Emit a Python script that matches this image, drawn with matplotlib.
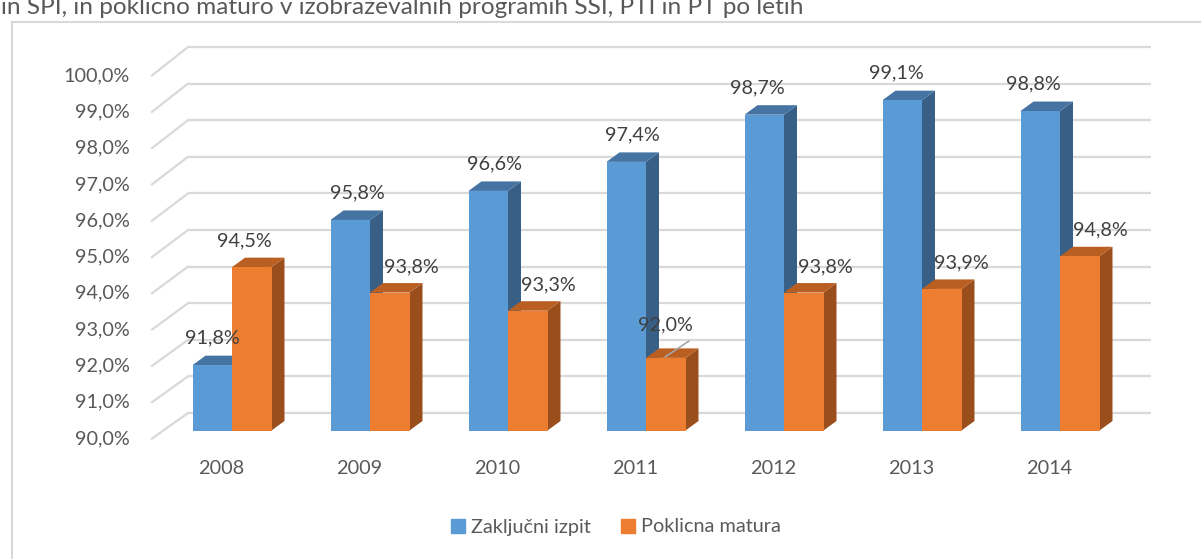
import matplotlib
matplotlib.use("Agg")
import matplotlib.pyplot as plt
from matplotlib.patches import Polygon, Rectangle, Patch
from matplotlib.lines import Line2D

plt.rcParams['font.family'] = ['Lato', 'DejaVu Sans']

# data
years = ['2008', '2009', '2010', '2011', '2012', '2013', '2014']
zakljucni = [91.8, 95.8, 96.6, 97.4, 98.7, 99.1, 98.8]
poklicna = [94.5, 93.8, 93.3, 92.0, 93.8, 93.9, 94.8]
ticks = [90, 91, 92, 93, 94, 95, 96, 97, 98, 99, 100]
series_names = ['Zaključni izpit', 'Poklicna matura']
title = 'in SPI, in poklicno maturo v izobraževalnih programih SSI, PTI in PT po letih'

# label nudges in pixels (Excel auto placement)
blue_lbl_dx = [0, 7, 6, 6, -7, -6, -7]
orange_lbl_dx = [-7, 22, 21, 0, 22, 20, 21]

W, H = 1201, 559
PXX = 138.0   # px per category
PXY = 36.3    # px per percent
X_ORIGIN = 232.0
Y_BASE = 430.5

BLUE = ['#5B9BD5', '#4574A3', '#385F86']     # front, top, side
ORANGE = ['#ED7D31', '#BA5F22', '#9A4E1C']
GRID = '#D9D9D9'
TXT = '#595959'
LBL = '#404040'

fig = plt.figure(figsize=(W / 100, H / 100), dpi=100)
ax = fig.add_axes([0, 0, 1, 1])
ax.set_xlim(-X_ORIGIN / PXX, (W - X_ORIGIN) / PXX)
ax.set_ylim(90 - (H - Y_BASE) / PXY, 90 + Y_BASE / PXY)
ax.axis('off')


def back(v):
    return 90.482 + (v - 90) * 1.0083


def front(v):
    return v - 8 / PXY


FX0 = (152 - X_ORIGIN) / PXX
BX0 = (188 - X_ORIGIN) / PXX
BX1 = (1151 - X_ORIGIN) / PXX

# walls / gridlines
for t in ticks:
    ax.plot([BX0, BX1], [back(t), back(t)], color=GRID, lw=1.6, zorder=1,
            solid_capstyle='butt')
    ax.plot([FX0, BX0], [front(t), back(t)], color=GRID, lw=1.6, zorder=1)
    ax.text((130 - X_ORIGIN) / PXX, front(t), f'{t:.1f}%'.replace('.', ','),
            ha='right', va='center', fontsize=14.3, color=TXT)

bw = 39.5 / PXX
ddx = 13 / PXX
ddy = 9.5 / PXY


def draw_bar(xl, v, cols, z):
    ax.add_patch(Polygon([(xl + bw, 90), (xl + bw + ddx, 90 + ddy),
                          (xl + bw + ddx, v + ddy), (xl + bw, v)],
                         closed=True, fc=cols[2], ec='none', zorder=z))
    ax.add_patch(Polygon([(xl, v), (xl + bw, v), (xl + bw + ddx, v + ddy),
                          (xl + ddx, v + ddy)],
                         closed=True, fc=cols[1], ec='none', zorder=z))
    ax.add_patch(Rectangle((xl, 90), bw, v - 90, fc=cols[0], ec='none', zorder=z))


for i, y in enumerate(years):
    draw_bar(i - bw, zakljucni[i], BLUE, 2 + i * 2)
    draw_bar(i, poklicna[i], ORANGE, 3 + i * 2)
    ax.text(i - 0.08, 90 - 37.5 / PXY, y, ha='center', va='center',
            fontsize=14.3, color=TXT)
    # data labels
    ax.text(i - bw / 2 + blue_lbl_dx[i] / PXX, zakljucni[i] + 0.74,
            f'{zakljucni[i]:.1f}%'.replace('.', ','), ha='center', va='center',
            fontsize=14.3, color=LBL, zorder=30)
    ly = poklicna[i] + (0.91 if orange_lbl_dx[i] == 0 else 0.72)
    lx = i + bw / 2 + orange_lbl_dx[i] / PXX
    ax.text(lx, ly, f'{poklicna[i]:.1f}%'.replace('.', ','), ha='center',
            va='center', fontsize=14.3, color=LBL, zorder=30)
    if orange_lbl_dx[i] == 0:
        ax.plot([i + 0.31, i + 0.14], [poklicna[i] + 0.46, poklicna[i] + 0.03],
                color='#A6A6A6', lw=1.2, zorder=31)

# chart border (cropped at right and bottom)
fig.add_artist(Line2D([12 / W, 12 / W], [0, 1 - 22 / H], color=GRID, lw=1.5))
fig.add_artist(Line2D([12 / W, 1], [1 - 22 / H, 1 - 22 / H], color=GRID, lw=1.5))

# title, cut at the top edge like the source
fig.text(1 / W, 1 - 14.5 / H, title, ha='left', va='baseline', fontsize=17.6,
         color=TXT)

handles = [Patch(color=BLUE[0], label=series_names[0]),
           Patch(color=ORANGE[0], label=series_names[1])]
fig.legend(handles=handles, loc='center', bbox_to_anchor=(616 / W, 1 - 527 / H),
           ncol=2, frameon=False, fontsize=14.3, labelcolor=TXT,
           handlelength=0.7, handleheight=0.7, handletextpad=0.3,
           columnspacing=1.5)

fig.savefig('out.png', dpi=100)
